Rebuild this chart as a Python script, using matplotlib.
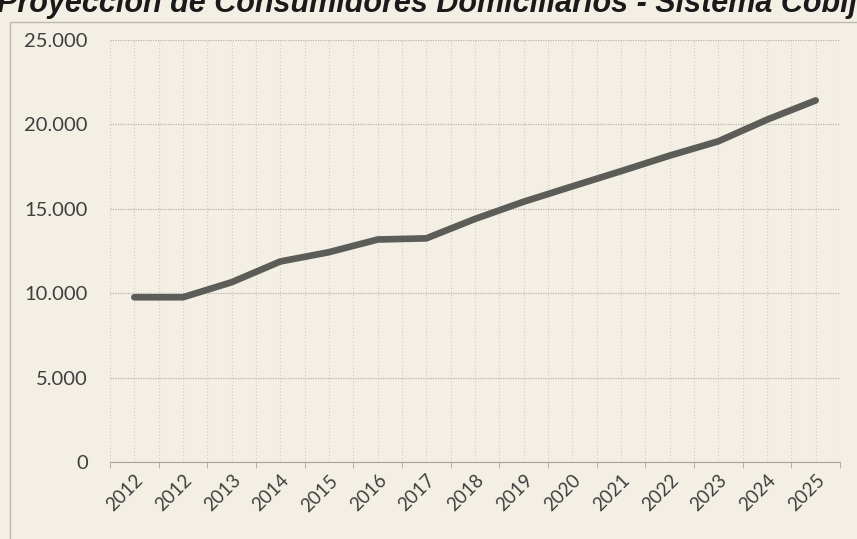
import matplotlib.pyplot as plt
import numpy as np
from matplotlib.patches import Rectangle

# data
years = ['2012', '2012', '2013', '2014', '2015', '2016', '2017', '2018',
         '2019', '2020', '2021', '2022', '2023', '2024', '2025']
consumidores = [9760, 9760, 10650, 11880, 12430, 13180, 13250, 14400,
                15420, 16330, 17230, 18150, 19000, 20280, 21420]
yticks = [0, 5000, 10000, 15000, 20000, 25000]
ytick_labels = ['0', '5.000', '10.000', '15.000', '20.000', '25.000']
title = 'Proyección de Consumidores Domiciliarios - Sistema Cobija'

paper = '#f3efe5'
txt = '#3f3f3f'

fig = plt.figure(figsize=(8.57, 5.39), dpi=100)
fig.patch.set_facecolor(paper)

# chart border box
fig.patches.append(Rectangle((10 / 857, -0.01), 1.0, 1 - 22 / 539 + 0.01,
                             transform=fig.transFigure, fill=False,
                             edgecolor='#bcb8ae', linewidth=1.0))

# title, clipped at the top as in the scan
fig.text(-0.004, 1 - 19 / 539, title, fontsize=22, fontweight='bold',
         fontstyle='italic', color='#1a1a1a', ha='left', va='bottom',
         family=['Liberation Sans', 'DejaVu Sans'])

ax = fig.add_axes([110 / 857, 1 - 462 / 539, 730 / 857, 422 / 539])
ax.set_facecolor('none')

x = np.arange(len(years))
ax.plot(x, consumidores, color='#5c5c58', linewidth=4.8,
        solid_capstyle='round', zorder=3)

ax.set_xlim(-0.5, len(years) - 0.5)
ax.set_ylim(0, 25000)

ax.set_yticks(yticks)
ax.set_yticklabels(ytick_labels)
ax.set_xticks(x)
ax.set_xticklabels(years, rotation=45, ha='right', rotation_mode='anchor')
ax.set_xticks(np.arange(len(years) + 1) - 0.5, minor=True)

ax.tick_params(axis='y', length=0, pad=16, labelsize=14.5, labelcolor=txt)
ax.tick_params(axis='x', which='major', length=0, pad=7, labelsize=13.5,
               labelcolor=txt)
ax.tick_params(axis='x', which='minor', length=4, color='#aaa69c')

for lab in ax.get_xticklabels() + ax.get_yticklabels():
    lab.set_family(['Lato', 'DejaVu Sans'])

# gridlines
ax.grid(axis='y', color='#b8b4aa', linestyle=(0, (1, 1)), linewidth=0.9)
ax.grid(axis='x', which='both', color='#d2cec4', linestyle=(0, (1, 2)),
        linewidth=0.8)

for s in ['top', 'right', 'left']:
    ax.spines[s].set_visible(False)
ax.spines['bottom'].set_color('#aaa69c')
ax.spines['bottom'].set_linestyle((0, (1, 1)))

fig.savefig('out.png', dpi=100, facecolor=paper)
